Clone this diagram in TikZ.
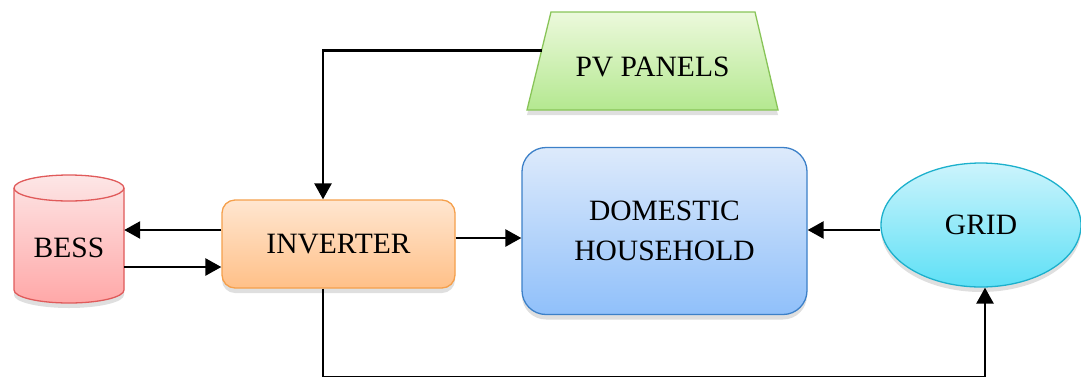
\documentclass[tikz,border=0pt]{standalone}
\usepackage{fontspec}
\setmainfont{Liberation Serif}
\usetikzlibrary{arrows.meta,shapes.geometric,shadows,calc}
\definecolor{bessT}{HTML}{FDE6E6}
\definecolor{bessB}{HTML}{FFA8A8}
\definecolor{bessD}{HTML}{E05A5A}
\definecolor{invT}{HTML}{FFE6D0}
\definecolor{invB}{HTML}{FFC088}
\definecolor{invD}{HTML}{F5A04C}
\definecolor{domT}{HTML}{DDEAFB}
\definecolor{domB}{HTML}{90C0FA}
\definecolor{domD}{HTML}{3C80C8}
\definecolor{gridT}{HTML}{CCF4FC}
\definecolor{gridB}{HTML}{5EE0F6}
\definecolor{gridD}{HTML}{1CB0CC}
\definecolor{pvT}{HTML}{ECF9DC}
\definecolor{pvB}{HTML}{B4E890}
\definecolor{pvD}{HTML}{88C458}
\tikzset{
  lbl/.style={font=\fontsize{29.5}{40}\selectfont, text=black, align=center, inner sep=0pt},
  shad/.style={drop shadow={opacity=0.25, shadow xshift=0pt, shadow yshift=-5pt}},
  arr/.style={line width=2.6pt, draw=black, -{Triangle[length=16pt,width=17pt]}},
}
\begin{document}
\begin{tikzpicture}[x=1pt,y=-1pt]
\useasboundingbox (0,0) rectangle (1081,376);
% BESS cylinder
\path[shad, top color=bessT, bottom color=bessB, draw=bessD, line width=1.3pt]
  (14,188) -- (14,290) arc[start angle=180, end angle=360, x radius=55pt, y radius=13pt]
  -- (124,188) arc[start angle=0, end angle=180, x radius=55pt, y radius=13pt] -- cycle;
\draw[bessD, line width=1.3pt] (14,188) arc[start angle=180, end angle=360, x radius=55pt, y radius=13pt];
\node[lbl, minimum width=110pt, minimum height=128pt] (bess) at (69,248) {BESS};
% Inverter
\node[lbl, shad, draw=invD, line width=1.3pt, top color=invT, bottom color=invB, rounded corners=13pt,
  minimum width=233pt, minimum height=88pt] (inv) at (338.5,244) {INVERTER};
% Domestic household
\node[lbl, shad, draw=domD, line width=1.3pt, top color=domT, bottom color=domB, rounded corners=24pt,
  minimum width=285pt, minimum height=167pt] (dom) at (664.5,231) {DOMESTIC\\HOUSEHOLD};
% Grid
\node[lbl, shad, ellipse, draw=gridD, line width=1.3pt, top color=gridT, bottom color=gridB,
  minimum width=200pt, minimum height=124pt] (grid) at (981,225) {GRID};
% PV panels
\coordinate (pvTL) at (551,12);
\coordinate (pvTR) at (755,12);
\coordinate (pvBR) at (778,110);
\coordinate (pvBL) at (527,110);
\path[shad, draw=pvD, line width=1.3pt, top color=pvT, bottom color=pvB]
  (pvTL) -- (pvTR) -- (pvBR) -- (pvBL) -- cycle;
\node[lbl] (pv) at (652.5,67) {PV PANELS};
% connectors
\coordinate (pvl) at ($(pvTL)!0.39!(pvBL)$);
\coordinate (bend1) at (323,50);
\draw[arr] (pvl) -- (pvl -| bend1) -- (bend1 |- inv.north);
\draw[arr] ($(inv.west)+(0,-14)$) coordinate (t1) -- (t1 -| bess.east);
\draw[arr] ($(bess.east)+(0,19)$) coordinate (t2) -- (t2 -| inv.west);
\draw[arr] ($(inv.east)+(0,-6)$) coordinate (t3) -- (t3 -| dom.west);
\draw[arr] ($(grid.west)+(0,5)$) coordinate (t4) -- (t4 -| dom.east);
\coordinate (b1) at (323,377.2);
\coordinate (b2) at (985,377.2);
\draw[arr] (b1 |- inv.south) -- (b1) -- (b2) -- (b2 |- grid.south);
\end{tikzpicture}
\end{document}
